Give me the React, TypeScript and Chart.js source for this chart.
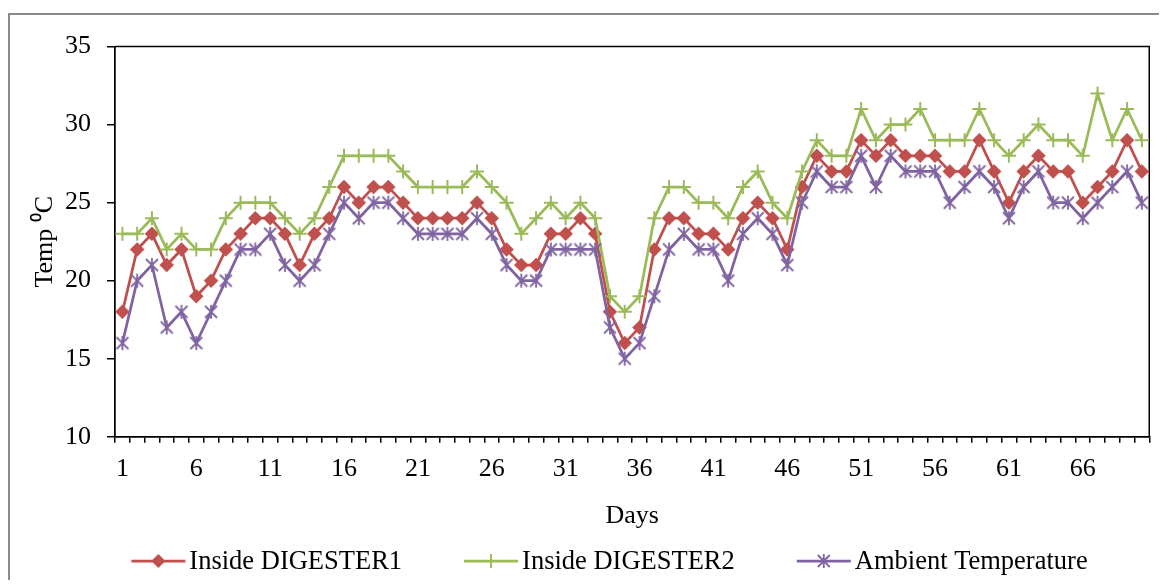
import React, { useEffect, useRef } from 'react';
import { Chart, registerables } from 'chart.js';

Chart.register(...registerables);

const days = [
  '1','2','3','4','5','6','7','8','9','10',
  '11','12','13','14','15','16','17','18','19','20',
  '21','22','23','24','25','26','27','28','29','30',
  '31','32','33','34','35','36','37','38','39','40',
  '41','42','43','44','45','46','47','48','49','50',
  '51','52','53','54','55','56','57','58','59','60',
  '61','62','63','64','65','66','67','68','69','70',
];

const digester1 = [
  18, 22, 23, 21, 22, 19, 20, 22, 23, 24,
  24, 23, 21, 23, 24, 26, 25, 26, 26, 25,
  24, 24, 24, 24, 25, 24, 22, 21, 21, 23,
  23, 24, 23, 18, 16, 17, 22, 24, 24, 23,
  23, 22, 24, 25, 24, 22, 26, 28, 27, 27,
  29, 28, 29, 28, 28, 28, 27, 27, 29, 27,
  25, 27, 28, 27, 27, 25, 26, 27, 29, 27,
];

const digester2 = [
  23, 23, 24, 22, 23, 22, 22, 24, 25, 25,
  25, 24, 23, 24, 26, 28, 28, 28, 28, 27,
  26, 26, 26, 26, 27, 26, 25, 23, 24, 25,
  24, 25, 24, 19, 18, 19, 24, 26, 26, 25,
  25, 24, 26, 27, 25, 24, 27, 29, 28, 28,
  31, 29, 30, 30, 31, 29, 29, 29, 31, 29,
  28, 29, 30, 29, 29, 28, 32, 29, 31, 29,
];

const ambient = [
  16, 20, 21, 17, 18, 16, 18, 20, 22, 22,
  23, 21, 20, 21, 23, 25, 24, 25, 25, 24,
  23, 23, 23, 23, 24, 23, 21, 20, 20, 22,
  22, 22, 22, 17, 15, 16, 19, 22, 23, 22,
  22, 20, 23, 24, 23, 21, 25, 27, 26, 26,
  28, 26, 28, 27, 27, 27, 25, 26, 27, 26,
  24, 26, 27, 25, 25, 24, 25, 26, 27, 25,
];

const seriesNames = ['Inside DIGESTER1', 'Inside DIGESTER2', 'Ambient Temperature'];
const yTitle = 'Temp \u2070C';
const xTitle = 'Days';

const RED = '#C0504D';
const GREEN = '#9BBB59';
const PURPLE = '#8064A2';
const FONT_FAMILY = '"Liberation Serif", "Times New Roman", serif';

type MarkerKind = 'diamond' | 'cross' | 'asterisk';

function drawMarker(ctx: CanvasRenderingContext2D, kind: MarkerKind, x: number, y: number, color: string) {
  ctx.save();
  ctx.strokeStyle = color;
  ctx.fillStyle = color;
  if (kind === 'diamond') {
    const r = 7;
    ctx.beginPath();
    ctx.moveTo(x - r, y);
    ctx.lineTo(x, y - r);
    ctx.lineTo(x + r, y);
    ctx.lineTo(x, y + r);
    ctx.closePath();
    ctx.fill();
  } else if (kind === 'cross') {
    const r = 7;
    ctx.lineWidth = 2;
    ctx.beginPath();
    ctx.moveTo(x - r, y);
    ctx.lineTo(x + r, y);
    ctx.moveTo(x, y - r);
    ctx.lineTo(x, y + r);
    ctx.stroke();
  } else {
    const d = 6;
    const v = 7;
    ctx.lineWidth = 1.8;
    ctx.beginPath();
    ctx.moveTo(x - d, y - d);
    ctx.lineTo(x + d, y + d);
    ctx.moveTo(x + d, y - d);
    ctx.lineTo(x - d, y + d);
    ctx.moveTo(x, y - v);
    ctx.lineTo(x, y + v);
    ctx.stroke();
  }
  ctx.restore();
}

function makeMarkerImage(kind: MarkerKind, color: string): HTMLCanvasElement {
  const c = document.createElement('canvas');
  c.width = 18;
  c.height = 18;
  const ctx = c.getContext('2d')!;
  drawMarker(ctx, kind, 9, 9, color);
  return c;
}

const markerKinds: MarkerKind[] = ['diamond', 'cross', 'asterisk'];
const colors = [RED, GREEN, PURPLE];

const framePlugin = {
  id: 'frameTopRight',
  beforeDatasetsDraw(chart: any) {
    const { ctx, chartArea } = chart;
    ctx.save();
    ctx.strokeStyle = '#000';
    ctx.lineWidth = 1.5;
    ctx.beginPath();
    ctx.moveTo(chartArea.left, chartArea.top);
    ctx.lineTo(chartArea.right, chartArea.top);
    ctx.lineTo(chartArea.right, chartArea.bottom);
    ctx.stroke();
    ctx.restore();
  },
};

const legendPlugin = {
  id: 'lineMarkerLegend',
  afterDraw(chart: any) {
    const ctx: CanvasRenderingContext2D = chart.ctx;
    const LINE = 54;
    const GAP = 4;
    const ITEM_GAP = 62;
    const centerX = 599.5;
    const y = 546;
    ctx.save();
    ctx.font = `26.5px ${FONT_FAMILY}`;
    ctx.textBaseline = 'middle';
    ctx.textAlign = 'left';
    const ds = chart.data.datasets;
    const widths = ds.map((d: any) => LINE + GAP + ctx.measureText(d.label).width);
    const total = widths.reduce((a: number, b: number) => a + b, 0) + ITEM_GAP * (ds.length - 1);
    let x = centerX - total / 2;
    ds.forEach((d: any, i: number) => {
      ctx.strokeStyle = colors[i];
      ctx.lineWidth = 2.75;
      ctx.beginPath();
      ctx.moveTo(x, y);
      ctx.lineTo(x + LINE, y);
      ctx.stroke();
      drawMarker(ctx, markerKinds[i], x + LINE / 2, y, colors[i]);
      ctx.fillStyle = '#000';
      ctx.fillText(d.label, x + LINE + GAP, y + 1);
      x += widths[i] + ITEM_GAP;
    });
    ctx.restore();
  },
};

export default function App() {
  const canvasRef = useRef<HTMLCanvasElement | null>(null);

  useEffect(() => {
    if (!canvasRef.current) return;
    const asteriskImg = makeMarkerImage('asterisk', PURPLE);
    const tickFont = { family: FONT_FAMILY, size: 26 };

    const chart = new Chart(canvasRef.current, {
      type: 'line',
      data: {
        labels: days,
        datasets: [
          {
            label: seriesNames[0],
            data: digester1,
            borderColor: RED,
            backgroundColor: RED,
            borderWidth: 2.75,
            pointStyle: 'rectRot',
            pointRadius: 7,
            pointBackgroundColor: RED,
            pointBorderColor: RED,
            pointBorderWidth: 0.5,
            tension: 0,
            order: 3,
          },
          {
            label: seriesNames[1],
            data: digester2,
            borderColor: GREEN,
            backgroundColor: GREEN,
            borderWidth: 2.75,
            pointStyle: 'cross',
            pointRadius: 7,
            pointBorderColor: GREEN,
            pointBorderWidth: 2,
            tension: 0,
            order: 2,
          },
          {
            label: seriesNames[2],
            data: ambient,
            borderColor: PURPLE,
            backgroundColor: PURPLE,
            borderWidth: 2.75,
            pointStyle: asteriskImg as any,
            pointRadius: 7,
            tension: 0,
            order: 1,
          },
        ],
      },
      options: {
        responsive: false,
        animation: false,
        events: [],
        layout: { padding: { left: 0, top: 28.5, right: 1.5, bottom: 48 } },
        plugins: {
          legend: { display: false },
          tooltip: { enabled: false },
        },
        scales: {
          x: {
            type: 'category',
            offset: true,
            grid: {
              offset: true,
              drawOnChartArea: false,
              drawTicks: true,
              tickLength: 6,
              color: '#000',
              lineWidth: 1.5,
            },
            border: { display: true, color: '#000', width: 1.75 },
            ticks: {
              autoSkip: false,
              maxRotation: 0,
              minRotation: 0,
              padding: 11,
              color: '#000',
              font: tickFont,
              callback: function (this: any, _v: any, index: number) {
                return index % 5 === 0 ? days[index] : '';
              },
            },
            title: {
              display: true,
              text: xTitle,
              color: '#000',
              font: tickFont,
              padding: { top: 0, bottom: 0 },
            },
            afterFit(scale: any) {
              scale.height = 95.3;
            },
          },
          y: {
            min: 10,
            max: 35,
            grid: {
              drawOnChartArea: false,
              drawTicks: true,
              tickLength: 8,
              color: '#000',
              lineWidth: 1.5,
            },
            border: { display: true, color: '#000', width: 1.75 },
            ticks: {
              stepSize: 5,
              padding: 16,
              color: '#000',
              font: tickFont,
            },
            title: {
              display: true,
              text: yTitle,
              color: '#000',
              font: tickFont,
              padding: { top: 20, bottom: 0 },
            },
            afterFit(scale: any) {
              scale.width = 105;
            },
          },
        },
      },
      plugins: [framePlugin, legendPlugin],
    });

    return () => {
      chart.destroy();
    };
  }, []);

  return (
    <div style={{ paddingTop: 5 }}>
      <div
        style={{
          borderLeft: '2px solid #8c8c8c',
          borderTop: '2px solid #8c8c8c',
          width: 1149,
          height: 565,
          background: '#fff',
        }}
      >
        <canvas ref={canvasRef} width={1149} height={565} style={{ display: 'block' }} />
      </div>
    </div>
  );
}
